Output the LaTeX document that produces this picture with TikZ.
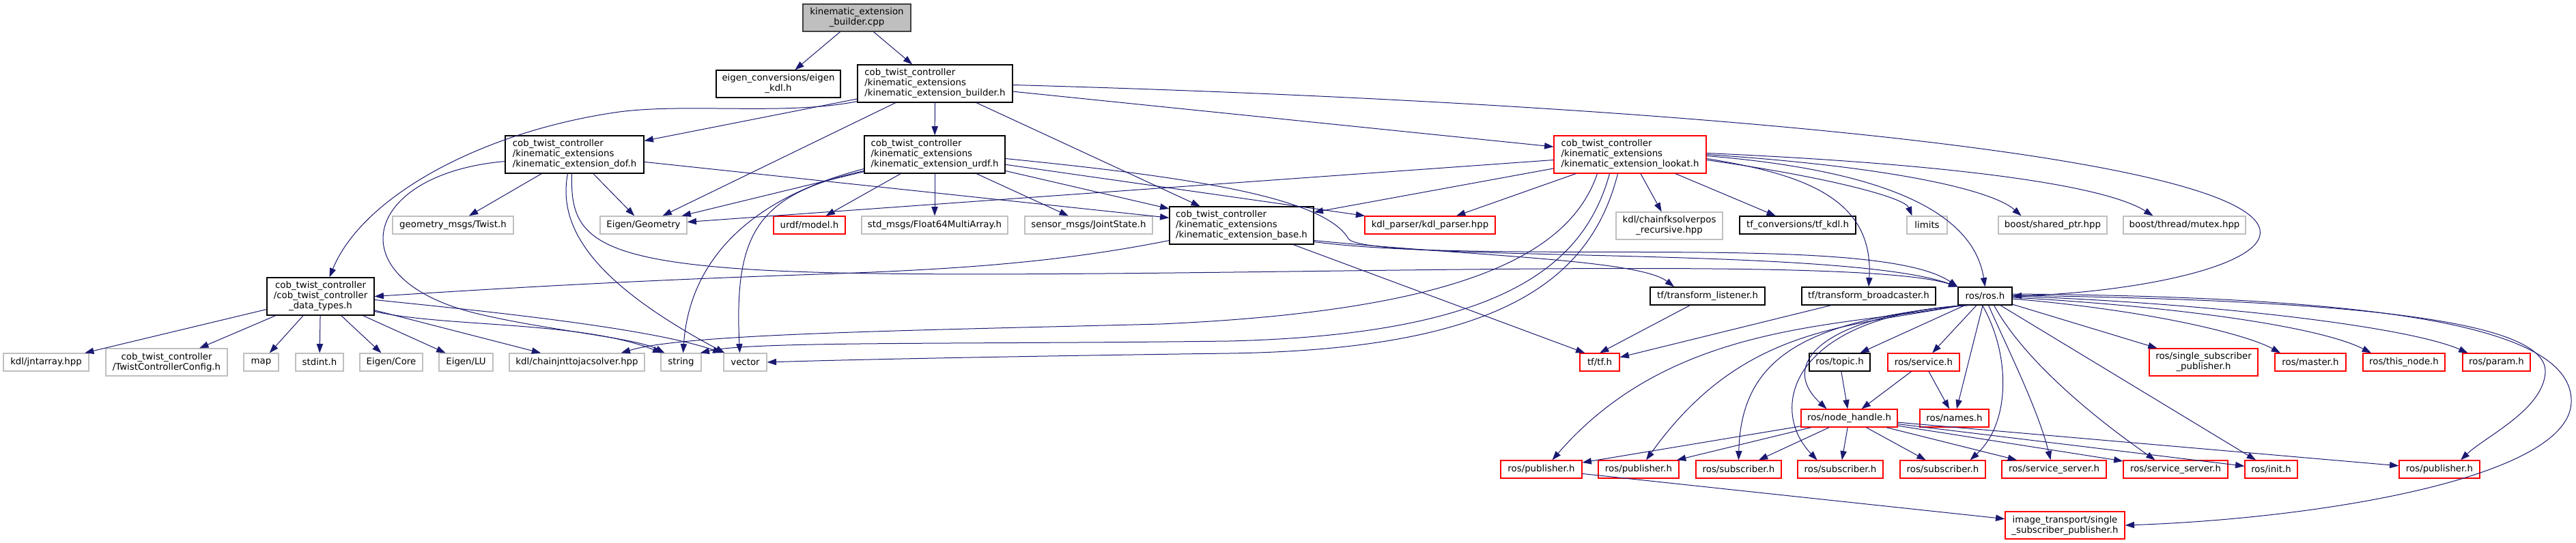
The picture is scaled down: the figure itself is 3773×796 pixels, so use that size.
\documentclass[tikz,border=0pt]{standalone}
\usepackage{fontspec}
\setmainfont{DejaVu Sans}
\usetikzlibrary{arrows.meta, calc}
\definecolor{incblue}{HTML}{191970}
\definecolor{rootfill}{HTML}{BFBFBF}
\definecolor{rootline}{HTML}{404040}
\definecolor{sysgray}{HTML}{BFBFBF}
\definecolor{cutred}{HTML}{FF0000}

\begin{document}
\begin{tikzpicture}[
    x=0.75pt, y=-0.75pt,
    hdrfile/.style={rectangle, draw=black, fill=white, line width=0.9pt, inner sep=0pt, align=center, font=\fontsize{10}{11.25}\selectfont, minimum height=26*0.75pt},
    rootfile/.style={hdrfile, draw=rootline, fill=rootfill},
    docfile/.style={hdrfile},
    sysfile/.style={hdrfile, draw=sysgray},
    cutfile/.style={hdrfile, draw=cutred},
    wd/.style={minimum width=#1*0.75pt},
    ht/.style={minimum height=#1*0.75pt},
    arrow/.style={-{Triangle[length=10pt,width=7pt]}, draw=incblue, line width=0.75pt}
]
\useasboundingbox (0,0) rectangle (3773,796);

\node[rootfile, wd=158, ht=40] (cpp) at (1255,26) {kinematic\_extension\\\_builder.cpp};

\node[docfile, wd=182, ht=40] (eigenkdl) at (1140,123) {eigen\_conversions/eigen\\\_kdl.h};
\node[docfile, wd=227, ht=55, align=left] (builderh) at (1369.5,122.5) {cob\_twist\_controller\\/kinematic\_extensions\\/kinematic\_extension\_builder.h};

\node[docfile, wd=203, ht=55, align=left] (dof) at (841.5,226.5) {cob\_twist\_controller\\/kinematic\_extensions\\/kinematic\_extension\_dof.h};
\node[docfile, wd=206, ht=55, align=left] (urdf) at (1369,226.5) {cob\_twist\_controller\\/kinematic\_extensions\\/kinematic\_extension\_urdf.h};
\node[cutfile, wd=223, ht=55, align=left] (lookat) at (2387.5,226.5) {cob\_twist\_controller\\/kinematic\_extensions\\/kinematic\_extension\_lookat.h};

\node[sysfile, wd=177] (twist) at (663.5,330) {geometry\_msgs/Twist.h};
\node[sysfile, wd=127] (eigengeo) at (942.5,330) {Eigen/Geometry};
\node[cutfile, wd=105] (urdfmodel) at (1185.5,330) {urdf/model.h};
\node[sysfile, wd=214] (float64) at (1369,330) {std\_msgs/Float64MultiArray.h};
\node[sysfile, wd=187] (jointstate) at (1594.5,330) {sensor\_msgs/JointState.h};
\node[docfile, wd=211, ht=55, align=left] (base) at (1818.5,330.5) {cob\_twist\_controller\\/kinematic\_extensions\\/kinematic\_extension\_base.h};
\node[cutfile, wd=191] (kdlparser) at (2094.5,330) {kdl\_parser/kdl\_parser.hpp};
\node[sysfile, wd=156, ht=40] (chainfk) at (2445,331) {kdl/chainfksolverpos\\\_recursive.hpp};
\node[docfile, wd=170] (tfkdl) at (2633,330) {tf\_conversions/tf\_kdl.h};
\node[sysfile, wd=59] (limits) at (2822.5,330) {limits};
\node[sysfile, wd=159] (sharedptr) at (3006.5,330) {boost/shared\_ptr.hpp};
\node[sysfile, wd=179] (mutex) at (3199.5,330) {boost/thread/mutex.hpp};

\node[docfile, wd=157, ht=55] (datatypes) at (469.5,434.5) {cob\_twist\_controller\\/cob\_twist\_controller\\\_data\_types.h};
\node[docfile, wd=168] (listener) at (2501,434) {tf/transform\_listener.h};
\node[docfile, wd=196] (broadcaster) at (2737,434) {tf/transform\_broadcaster.h};
\node[docfile, wd=79] (rosh) at (2907.5,434) {ros/ros.h};

\node[sysfile, wd=125] (jntarray) at (67.5,531) {kdl/jntarray.hpp};
\node[sysfile, wd=178, ht=40] (twistcfg) at (244,531) {cob\_twist\_controller\\/TwistControllerConfig.h};
\node[sysfile, wd=51] (map) at (382.5,531) {map};
\node[sysfile, wd=70] (stdint) at (468,531) {stdint.h};
\node[sysfile, wd=92] (eigencore) at (573,531) {Eigen/Core};
\node[sysfile, wd=79] (eigenlu) at (682.5,531) {Eigen/LU};
\node[sysfile, wd=198] (chainjnt) at (845,531) {kdl/chainjnttojacsolver.hpp};
\node[sysfile, wd=59] (string) at (997.5,531) {string};
\node[sysfile, wd=63] (vector) at (1091.5,531) {vector};
\node[cutfile, wd=58] (tfh) at (2343,531) {tf/tf.h};
\node[docfile, wd=89] (topic) at (2694.5,531) {ros/topic.h};
\node[cutfile, wd=105] (service) at (2817.5,531) {ros/service.h};
\node[cutfile, wd=159, ht=40] (singlesub) at (3227.5,531) {ros/single\_subscriber\\\_publisher.h};
\node[cutfile, wd=104] (master) at (3384,531) {ros/master.h};
\node[cutfile, wd=120] (thisnode) at (3521,531) {ros/this\_node.h};
\node[cutfile, wd=99] (param) at (3656.5,531) {ros/param.h};

\node[cutfile, wd=141] (nodehandle) at (2708.5,613) {ros/node\_handle.h};
\node[cutfile, wd=101] (names) at (2862.5,613) {ros/names.h};

\node[cutfile, wd=119] (pubA) at (2257.5,688) {ros/publisher.h};
\node[cutfile, wd=118] (pubB) at (2400,688) {ros/publisher.h};
\node[cutfile, wd=125] (subA) at (2546.5,688) {ros/subscriber.h};
\node[cutfile, wd=125] (subB) at (2695.5,688) {ros/subscriber.h};
\node[cutfile, wd=125] (subC) at (2845.5,688) {ros/subscriber.h};
\node[cutfile, wd=153] (srvA) at (3008.5,688) {ros/service\_server.h};
\node[cutfile, wd=153] (srvB) at (3186.5,688) {ros/service\_server.h};
\node[cutfile, wd=77] (init) at (3326.5,688) {ros/init.h};
\node[cutfile, wd=118] (pubC) at (3573,688) {ros/publisher.h};

\node[cutfile, wd=175, ht=40] (imgtrans) at (3024.5,770) {image\_transport/single\\\_subscriber\_publisher.h};

\draw[arrow] (cpp) -- (eigenkdl);
\draw[arrow] (cpp) -- (builderh);

\draw[arrow] (builderh) -- (dof);
\draw[arrow] (builderh) -- (urdf);
\draw[arrow] (builderh) -- (eigengeo);
\draw[arrow] (builderh) -- (base);
\draw[arrow] (builderh) -- (lookat);
\draw[arrow] ($(builderh.south west)+(0,-2)$) .. controls (1150,170) and (1000,150) .. (900,165)
    .. controls (700,195) and (530,290) .. ($(datatypes.north)+(13,0)$);
\draw[arrow] ($(builderh.east)+(0,2)$) .. controls (2400,150) and (3200,220) .. (3300,320)
    .. controls (3360,380) and (3150,428) .. (rosh.east);

\draw[arrow] (dof) -- (twist);
\draw[arrow] (dof) -- (eigengeo);
\draw[arrow] (dof) -- (base);
\draw[arrow] ($(dof.south)+(-10,0)$) .. controls (815,340) and (880,420) .. ($(vector.north west)+(2,0)$);
\draw[arrow] ($(dof.west)+(0,10)$) .. controls (530,255) and (490,410) .. (700,460)
    .. controls (805,485) and (930,495) .. ($(string.north west)+(6,0)$);
\draw[arrow] ($(dof.south)+(-4,0)$) .. controls (835,340) and (860,380) .. (1100,395)
    .. controls (1500,420) and (2700,365) .. (rosh.north west);

\draw[arrow] (urdf) -- (urdfmodel);
\draw[arrow] (urdf) -- (float64);
\draw[arrow] (urdf) -- (jointstate);
\draw[arrow] (urdf) -- (eigengeo);
\draw[arrow] (urdf) -- (base);
\draw[arrow] (urdf) -- (kdlparser);
\draw[arrow] ($(urdf.west)+(0,21)$) .. controls (1100,290) and (1010,380) .. ($(string.north)+(3,0)$);
\draw[arrow] ($(urdf.west)+(0,24)$) .. controls (1110,285) and (1075,340) .. ($(vector.north)+(-8,0)$);
\draw[arrow] ($(urdf.east)+(0,6)$) .. controls (1750,260) and (1940,290) .. (1975,350)
    .. controls (2000,385) and (2700,360) .. (rosh.north west);

\draw[arrow] (lookat) -- (eigengeo);
\draw[arrow] (lookat) -- (base);
\draw[arrow] (lookat) -- (kdlparser);
\draw[arrow] (lookat) -- (chainfk);
\draw[arrow] (lookat) -- (tfkdl);
\draw[arrow] ($(lookat.east)+(0,6)$) .. controls (2640,255) and (2745,290) .. (broadcaster.north);
\draw[arrow] ($(lookat.east)+(0,8)$) .. controls (2680,260) and (2790,290) .. ($(limits.north)+(-22,0)$);
\draw[arrow] ($(lookat.east)+(0,2)$) .. controls (2760,250) and (2890,310) .. (rosh.north);
\draw[arrow] (lookat.east) .. controls (2780,245) and (2920,280) .. ($(sharedptr.north)+(-46,0)$);
\draw[arrow] ($(lookat.east)+(0,-2)$) .. controls (2850,240) and (3080,270) .. ($(mutex.north)+(-46,0)$);
\draw[arrow] ($(lookat.south)+(-48,0)$) .. controls (2300,370) and (2150,455) .. (1700,475)
    .. controls (1300,485) and (1000,490) .. ($(chainjnt.north east)+(-35,0)$);
\draw[arrow] ($(lookat.south)+(-30,0)$) .. controls (2320,390) and (2200,490) .. (1800,500)
    .. controls (1400,505) and (1100,500) .. ($(string.north east)+(-2,0)$);
\draw[arrow] ($(lookat.south)+(-18,0)$) .. controls (2330,410) and (2200,512) .. (1800,518)
    .. controls (1500,522) and (1250,527) .. (vector.east);

\draw[arrow] ($(base.west)+(0,22)$) .. controls (1550,385) and (1400,395) .. (1200,402)
    .. controls (900,412) and (700,425) .. (datatypes.east);
\draw[arrow] (base) -- ($(tfh.north west)+(8,0)$);
\draw[arrow] ($(base.east)+(0,22)$) .. controls (2150,375) and (2400,380) .. ($(listener.north)+(-49,0)$);
\draw[arrow] ($(base.east)+(0,24)$) .. controls (2200,390) and (2750,340) .. (rosh.north west);

\draw[arrow] (datatypes) -- (jntarray);
\draw[arrow] (datatypes) -- (twistcfg);
\draw[arrow] (datatypes) -- (map);
\draw[arrow] (datatypes) -- (stdint);
\draw[arrow] (datatypes) -- (eigencore);
\draw[arrow] (datatypes) -- (eigenlu);
\draw[arrow] (datatypes) -- (chainjnt);
\draw[arrow] ($(datatypes.east)+(0,22)$) .. controls (650,480) and (850,470) .. ($(string.north west)+(2,0)$);
\draw[arrow] ($(datatypes.east)+(0,5)$) .. controls (700,455) and (950,480) .. ($(vector.north west)+(-2,0)$);

\draw[arrow] (listener) -- (tfh.north);
\draw[arrow] (broadcaster) -- (tfh);

\draw[arrow] (rosh) -- (topic);
\draw[arrow] (rosh) -- (service);
\draw[arrow] (rosh) -- (names);
\draw[arrow] (rosh) -- (init);
\draw[arrow] (rosh) -- (singlesub);
\draw[arrow] ($(rosh.east)+(0,4)$) .. controls (3150,455) and (3290,490) .. ($(master.north)+(-44,0)$);
\draw[arrow] ($(rosh.east)+(0,2)$) .. controls (3200,450) and (3400,480) .. ($(thisnode.north)+(-48,0)$);
\draw[arrow] (rosh.east) .. controls (3250,445) and (3530,480) .. ($(param.north)+(-42,0)$);
\draw[arrow] ($(rosh.east)+(0,-1)$) .. controls (3450,440) and (3730,470) .. (3728,545)
    .. controls (3726,600) and (3640,640) .. ($(pubC.north)+(31,0)$);
\draw[arrow] ($(rosh.east)+(0,-3)$) .. controls (3500,435) and (3770,480) .. (3766,590)
    .. controls (3762,700) and (3400,760) .. (imgtrans.east);
\draw[arrow] ($(rosh.south)+(-22,0)$) .. controls (2680,460) and (2600,530) .. ($(nodehandle.north)+(-33,0)$);
\draw[arrow] ($(rosh.south west)+(4,0)$) .. controls (2700,480) and (2450,470) .. ($(pubA.north)+(16,0)$);
\draw[arrow] ($(rosh.south west)+(6,0)$) .. controls (2700,480) and (2550,480) .. ($(pubB.north)+(11,0)$);
\draw[arrow] ($(rosh.south west)+(8,0)$) .. controls (2650,470) and (2550,520) .. (subA.north);
\draw[arrow] ($(rosh.south west)+(10,0)$) .. controls (2620,465) and (2590,600) .. ($(subB.north)+(-34,0)$);
\draw[arrow] ($(rosh.south)+(-4,0)$) .. controls (2945,520) and (2945,620) .. ($(subC.north)+(40,0)$);
\draw[arrow] ($(rosh.south)+(5,0)$) .. controls (2940,510) and (2985,600) .. ($(srvA.north)+(-5,0)$);
\draw[arrow] ($(rosh.south)+(13,0)$) .. controls (2960,520) and (3050,600) .. ($(srvB.north)+(-30,0)$);

\draw[arrow] (topic) -- (nodehandle);
\draw[arrow] (service) -- (nodehandle);
\draw[arrow] (service) -- (names);

\draw[arrow] (nodehandle) -- (pubA);
\draw[arrow] (nodehandle) -- (pubB);
\draw[arrow] (nodehandle) -- (subA);
\draw[arrow] (nodehandle) -- (subB);
\draw[arrow] (nodehandle) -- (subC);
\draw[arrow] (nodehandle) -- (srvA);
\draw[arrow] (nodehandle) -- (srvB);
\draw[arrow] (nodehandle) -- (init);
\draw[arrow] (nodehandle) -- (pubC);

\draw[arrow] (pubA) -- (imgtrans);
\end{tikzpicture}
\end{document}
